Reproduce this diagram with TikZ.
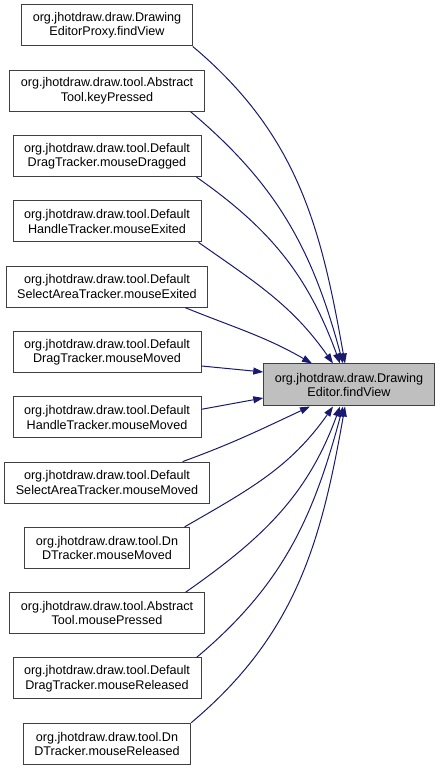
\documentclass[tikz,border=0pt]{standalone}
\usepackage{fontspec}
\setmainfont{Liberation Sans}
\usetikzlibrary{arrows.meta,positioning}
\definecolor{edgeblue}{RGB}{25,25,112}
\definecolor{boxgrey}{RGB}{64,64,64}
\definecolor{mainfill}{RGB}{191,191,191}
\tikzset{
  fn/.style={draw=boxgrey, fill=white, rectangle, line width=1pt, minimum height=41pt, inner xsep=11pt, inner ysep=0pt, align=center, font=\fontsize{12.6}{14.5}\selectfont},
  mainfn/.style={fn, fill=mainfill, minimum height=42pt},
  call/.style={edgeblue, line width=1pt, -{Triangle[length=10pt,width=7pt]}},
}
\begin{document}
\begin{tikzpicture}[x=1pt, y=1pt, node distance=23.3pt]
\useasboundingbox (0,0) rectangle (441,771);

\node[fn] (proxy) at (107,745.5) {org.jhotdraw.draw.Drawing\\EditorProxy.findView};
\node[fn, below=of proxy] (keyPressed) {org.jhotdraw.draw.tool.Abstract\\Tool.keyPressed};
\node[fn, below=of keyPressed] (dragDragged) {org.jhotdraw.draw.tool.Default\\DragTracker.mouseDragged};
\node[fn, below=of dragDragged] (handleExited) {org.jhotdraw.draw.tool.Default\\HandleTracker.mouseExited};
\node[fn, below=of handleExited] (selectExited) {org.jhotdraw.draw.tool.Default\\SelectAreaTracker.mouseExited};
\node[fn, below=of selectExited] (dragMoved) {org.jhotdraw.draw.tool.Default\\DragTracker.mouseMoved};
\node[fn, below=of dragMoved] (handleMoved) {org.jhotdraw.draw.tool.Default\\HandleTracker.mouseMoved};
\node[fn, below=of handleMoved] (selectMoved) {org.jhotdraw.draw.tool.Default\\SelectAreaTracker.mouseMoved};
\node[fn, below=of selectMoved] (dndMoved) {org.jhotdraw.draw.tool.Dn\\DTracker.mouseMoved};
\node[fn, below=of dndMoved] (mousePressed) {org.jhotdraw.draw.tool.Abstract\\Tool.mousePressed};
\node[fn, below=of mousePressed] (dragReleased) {org.jhotdraw.draw.tool.Default\\DragTracker.mouseReleased};
\node[fn, below=of dragReleased] (dndReleased) {org.jhotdraw.draw.tool.Dn\\DTracker.mouseReleased};

\node[mainfn] (findView) at (349,386) {org.jhotdraw.draw.Drawing\\Editor.findView};

% callers above
\draw[call] (proxy.south east) to[out=-40, in=100] ([xshift=-4pt]findView.north);
\draw[call] ([xshift=-14pt]keyPressed.south east) to[out=-40, in=105] ([xshift=-6pt]findView.north);
\draw[call] ([xshift=-5pt]dragDragged.south east) to[out=-35, in=110] ([xshift=-9pt]findView.north);
\draw[call] ([xshift=-3pt]handleExited.south east) to[out=-35, in=125] ([xshift=-16pt]findView.north);
\draw[call] ([xshift=-23pt]selectExited.south east) to[out=-22, in=150] ([xshift=-37pt]findView.north);
\draw[call] ([yshift=-14pt]dragMoved.east) -- ([yshift=13pt]findView.west);
\draw[call] ([yshift=8pt]handleMoved.east) -- ([yshift=-13pt]findView.west);
% callers below
\draw[call] ([xshift=-27pt]selectMoved.north east) to[out=20, in=-155] ([xshift=-39pt]findView.south);
\draw[call] ([xshift=-5pt]dndMoved.north east) to[out=30, in=-125] ([xshift=-16pt]findView.south);
\draw[call] ([xshift=-19pt]mousePressed.north east) to[out=35, in=-110] ([xshift=-9pt]findView.south);
\draw[call] ([xshift=-5pt]dragReleased.north east) to[out=40, in=-105] ([xshift=-6pt]findView.south);
\draw[call] (dndReleased.north east) to[out=40, in=-100] ([xshift=-4pt]findView.south);

\end{tikzpicture}
\end{document}
